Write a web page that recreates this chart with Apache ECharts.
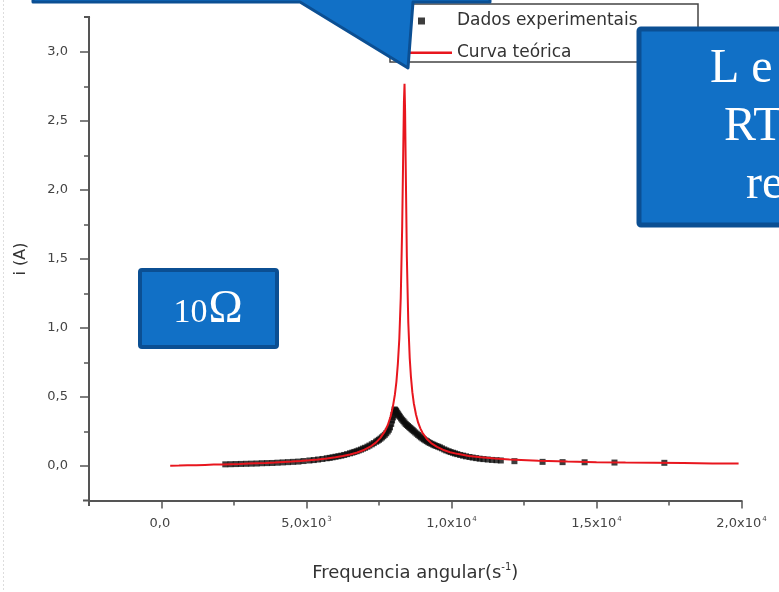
<!DOCTYPE html>
<html>
<head>
<meta charset="utf-8">
<script src="https://cdn.jsdelivr.net/npm/echarts@6/dist/echarts.min.js"></script>
<style>
  html, body { margin: 0; padding: 0; background: #ffffff; }
  #chart { width: 779px; height: 592px; }
</style>
</head>
<body>
<div id="chart"></div>
<script>
// Measured current (A) versus angular frequency (s^-1)
const expOmega = [2200, 2380, 2560, 2740, 2920, 3100, 3280, 3460, 3640, 3820, 4000, 4180, 4360, 4540, 4720, 4900,
  5100, 5250, 5400, 5550, 5700, 5800, 5900, 6000, 6100, 6200, 6300, 6400, 6500, 6580, 6650, 6730, 6800, 6880, 6950, 7020,
  7100, 7170, 7250, 7320, 7400, 7450, 7500, 7550, 7600, 7650, 7700, 7750, 7800, 7840, 7880, 7920, 7950, 7980, 8000, 8020,
  8040, 8060, 8080, 8100, 8130, 8160, 8190, 8220, 8260, 8300, 8340, 8380, 8420, 8460, 8500, 8540, 8580, 8620, 8660, 8700,
  8750, 8800, 8850, 8900, 8950, 9000, 9050, 9100, 9150, 9200, 9250, 9310, 9370, 9420, 9480, 9540, 9600, 9670, 9750, 9820,
  9900, 9970, 10050, 10120, 10200, 10300, 10400, 10500, 10620, 10730, 10850, 10970, 11100, 11250, 11400, 11550, 11700,
  12170, 13140, 13830, 14590, 15620, 17340];
const expCurrent = [0.012, 0.013, 0.014, 0.015, 0.016, 0.017, 0.018, 0.020, 0.021, 0.022, 0.024, 0.026, 0.028, 0.030, 0.032, 0.036,
  0.040, 0.043, 0.047, 0.051, 0.056, 0.059, 0.063, 0.067, 0.071, 0.075, 0.080, 0.086, 0.092, 0.097, 0.102, 0.107, 0.113, 0.119, 0.126, 0.132,
  0.140, 0.148, 0.157, 0.166, 0.176, 0.183, 0.190, 0.198, 0.207, 0.216, 0.226, 0.237, 0.250, 0.263, 0.280, 0.305, 0.330, 0.352, 0.370, 0.392,
  0.410, 0.405, 0.400, 0.394, 0.385, 0.375, 0.365, 0.357, 0.345, 0.335, 0.325, 0.315, 0.305, 0.297, 0.290, 0.282, 0.275, 0.267, 0.260, 0.252,
  0.243, 0.234, 0.225, 0.216, 0.208, 0.200, 0.193, 0.186, 0.180, 0.173, 0.167, 0.161, 0.155, 0.150, 0.145, 0.140, 0.135, 0.128, 0.120, 0.113,
  0.107, 0.101, 0.096, 0.091, 0.086, 0.080, 0.075, 0.070, 0.065, 0.061, 0.057, 0.053, 0.050, 0.047, 0.044, 0.042, 0.040,
  0.035, 0.030, 0.028, 0.027, 0.025, 0.023];

// Theoretical resonance curve
const theoOmega = [300, 600, 900, 1200, 1500, 1800, 2100, 2400, 2700, 3000, 3300, 3600, 3900, 4200, 4500, 4800, 5100, 5400,
  5700, 6000, 6250, 6500, 6750, 7000, 7200, 7400, 7550, 7700, 7800, 7900, 7975, 8050, 8100, 8150, 8200, 8250, 8300, 8340,
  8360, 8380, 8400, 8420, 8460, 8510, 8560, 8600, 8650, 8700, 8775, 8850, 8925, 9000, 9150, 9300, 9500, 9700, 9950, 10200,
  10600, 11000, 11500, 12000, 13000, 14000, 15000, 16000, 17000, 18000, 19000, 19900];
const theoCurrent = [0.002, 0.003, 0.005, 0.006, 0.008, 0.010, 0.011, 0.013, 0.015, 0.018, 0.020, 0.022, 0.025, 0.029, 0.032, 0.036, 0.041, 0.047,
  0.054, 0.063, 0.072, 0.083, 0.098, 0.118, 0.140, 0.171, 0.204, 0.251, 0.295, 0.359, 0.425, 0.520, 0.610, 0.740, 0.920, 1.220, 1.740, 2.350,
  2.640, 2.770, 2.570, 2.200, 1.520, 1.040, 0.780, 0.650, 0.535, 0.455, 0.373, 0.314, 0.273, 0.241, 0.196, 0.166, 0.138, 0.118, 0.100, 0.088,
  0.073, 0.063, 0.054, 0.047, 0.038, 0.032, 0.028, 0.025, 0.023, 0.021, 0.019, 0.018];

// Axis ticks and labels
const xTickValues = [0, 5000, 10000, 15000, 20000];
const xTickText = ['0,0', '5,0x10', '1,0x10', '1,5x10', '2,0x10'];
const xTickPower = ['', '3', '4', '4', '4'];
const xMinorTicks = [2500, 7500, 12500, 17500];
const yTickValues = [0, 0.5, 1, 1.5, 2, 2.5, 3];
const yTickText = ['0,0', '0,5', '1,0', '1,5', '2,0', '2,5', '3,0'];
const yMinorTicks = [0.25, 0.75, 1.25, 1.75, 2.25, 2.75];

const axisColor = '#555555';
const labelColor = '#444444';
const boxFill = '#1170c6';
const boxEdge = '#0b4f93';
const uiFont = 'DejaVu Sans';
const slideFont = 'Liberation Serif';

const chart = echarts.init(document.getElementById('chart'), null, { renderer: 'canvas' });

const expData = expOmega.map((w, i) => [w, expCurrent[i]]);
const theoData = theoOmega.map((w, i) => [w, theoCurrent[i]]);

const xRange = { min: -2500, max: 20000 };
const yRange = { min: -0.25, max: 3.25 };

chart.setOption({
  animation: false,
  backgroundColor: '#ffffff',
  grid: { left: 89, right: 37.5, top: 17.5, bottom: 91.5, containLabel: false },
  xAxis: [
    {
      type: 'value', ...xRange, position: 'bottom',
      name: '{n|Frequencia angular(s}{p|-1}{n|)}',
      nameLocation: 'middle', nameGap: 62,
      nameTextStyle: {
        rich: {
          n: { fontFamily: uiFont, fontSize: 18, color: '#333' },
          p: { fontFamily: uiFont, fontSize: 10, color: '#333', padding: [0, 0, 11, 0] }
        }
      },
      axisLine: { show: true, onZero: false, lineStyle: { color: axisColor, width: 2 } },
      axisTick: { show: true, inside: false, length: 8, customValues: xTickValues, lineStyle: { color: axisColor, width: 1.5 } },
      axisLabel: {
        customValues: xTickValues, margin: 15,
        formatter: (v) => {
          const k = xTickValues.indexOf(v);
          if (k < 0) return '';
          return '{m|' + xTickText[k] + '}{p|' + (xTickPower[k] || ' ') + '}';
        },
        rich: {
          m: { fontFamily: uiFont, fontSize: 13, color: labelColor },
          p: { fontFamily: uiFont, fontSize: 7, color: labelColor, padding: [0, 0, 10, 1] }
        }
      },
      splitLine: { show: false }
    },
    {
      type: 'value', ...xRange, position: 'bottom',
      axisLine: { show: false, onZero: false },
      axisTick: { show: true, inside: false, length: 5, customValues: xMinorTicks, lineStyle: { color: axisColor, width: 1.5 } },
      axisLabel: { show: false },
      splitLine: { show: false }
    }
  ],
  yAxis: [
    {
      type: 'value', ...yRange, position: 'left',
      name: 'i (A)', nameLocation: 'middle', nameGap: 60, nameRotate: 90,
      nameTextStyle: { fontFamily: uiFont, fontSize: 16, color: '#333' },
      axisLine: { show: true, onZero: false, lineStyle: { color: axisColor, width: 2 } },
      axisTick: { show: true, inside: false, length: 9, customValues: yTickValues, lineStyle: { color: axisColor, width: 1.5 } },
      axisLabel: {
        customValues: yTickValues, margin: 21,
        fontFamily: uiFont, fontSize: 13, color: labelColor,
        formatter: (v) => {
          const k = yTickValues.indexOf(v);
          return k < 0 ? '' : yTickText[k];
        }
      },
      splitLine: { show: false }
    },
    {
      type: 'value', ...yRange, position: 'left',
      axisLine: { show: false, onZero: false },
      axisTick: { show: true, inside: false, length: 5, customValues: yMinorTicks, lineStyle: { color: axisColor, width: 1.5 } },
      axisLabel: { show: false },
      splitLine: { show: false }
    }
  ],
  legend: {
    orient: 'vertical', left: 403, top: 7,
    itemWidth: 44, itemHeight: 14, itemGap: 15,
    textStyle: { fontFamily: uiFont, fontSize: 17, color: '#333' },
    data: [
      { name: 'Dados experimentais', icon: 'path://M0,0L0,0.01M44,14L44,13.99M10,4h7v7h-7z' },
      { name: 'Curva teórica', icon: 'path://M0,0L0,0.01M44,14L44,13.99M0,6h44v2.4h-44z' }
    ]
  },
  series: [
    {
      name: 'Dados experimentais', type: 'scatter', xAxisIndex: 0, yAxisIndex: 0,
      symbol: 'rect', symbolSize: 6,
      itemStyle: { color: '#0d0d0d' },
      data: expData, z: 2
    },
    {
      name: 'Curva teórica', type: 'line', xAxisIndex: 0, yAxisIndex: 0,
      showSymbol: false, symbol: 'none',
      lineStyle: { color: '#e8161e', width: 2 },
      itemStyle: { color: '#e8161e' },
      data: theoData, z: 3
    }
  ],
  graphic: [
    // faint slide border on the left edge
    { type: 'line', shape: { x1: 3.5, y1: 0, x2: 3.5, y2: 592 }, style: { stroke: '#dddddd', lineWidth: 1, lineDash: [2, 2] }, z: 1 },
    // small hook at the top of the y axis and the crossing stubs at the origin corner
    { type: 'polyline', shape: { points: [[89, 20], [89, 17], [84, 17]] }, style: { stroke: axisColor, lineWidth: 2, fill: 'none' }, z: 2 },
    { type: 'line', shape: { x1: 83, y1: 500.5, x2: 89, y2: 500.5 }, style: { stroke: axisColor, lineWidth: 2 }, z: 2 },
    { type: 'line', shape: { x1: 89, y1: 500, x2: 89, y2: 506 }, style: { stroke: axisColor, lineWidth: 2 }, z: 2 },
    // legend frame
    { type: 'rect', shape: { x: 390, y: 4, width: 308, height: 58 }, style: { fill: 'none', stroke: '#444', lineWidth: 1.5 }, z: 3 },
    // callout with its pointer reaching the peak
    {
      type: 'polygon', z: 100,
      shape: { points: [[33, -10], [490, -10], [490, 2], [413, 2], [408, 68], [300, 2], [33, 2]] },
      style: { fill: boxFill, stroke: boxEdge, lineWidth: 3, lineJoin: 'round' }
    },
    // right-hand note box
    {
      type: 'rect', z: 100,
      shape: { x: 639, y: 29, width: 160, height: 196, r: 2 },
      style: { fill: boxFill, stroke: boxEdge, lineWidth: 5 }
    },
    { type: 'text', z: 101, x: 710, y: 69, style: { text: 'L e', fill: '#ffffff', font: '48px "' + slideFont + '"', verticalAlign: 'middle' } },
    { type: 'text', z: 101, x: 724, y: 127, style: { text: 'RT', fill: '#ffffff', font: '48px "' + slideFont + '"', verticalAlign: 'middle' } },
    { type: 'text', z: 101, x: 746, y: 185, style: { text: 're', fill: '#ffffff', font: '48px "' + slideFont + '"', verticalAlign: 'middle' } },
    // resistance tag
    {
      type: 'rect', z: 100,
      shape: { x: 140, y: 270, width: 137, height: 77, r: 2 },
      style: { fill: boxFill, stroke: boxEdge, lineWidth: 4 }
    },
    {
      type: 'text', z: 101, x: 208, y: 310,
      style: {
        text: '{a|10}{b|Ω}', align: 'center', verticalAlign: 'middle',
        rich: {
          a: { fill: '#ffffff', fontFamily: slideFont, fontSize: 34, verticalAlign: 'bottom', lineHeight: 46, padding: [0, 1, 3, 0] },
          b: { fill: '#ffffff', fontFamily: slideFont, fontSize: 46, verticalAlign: 'bottom', lineHeight: 46 }
        }
      }
    }
  ]
});
</script>
</body>
</html>
